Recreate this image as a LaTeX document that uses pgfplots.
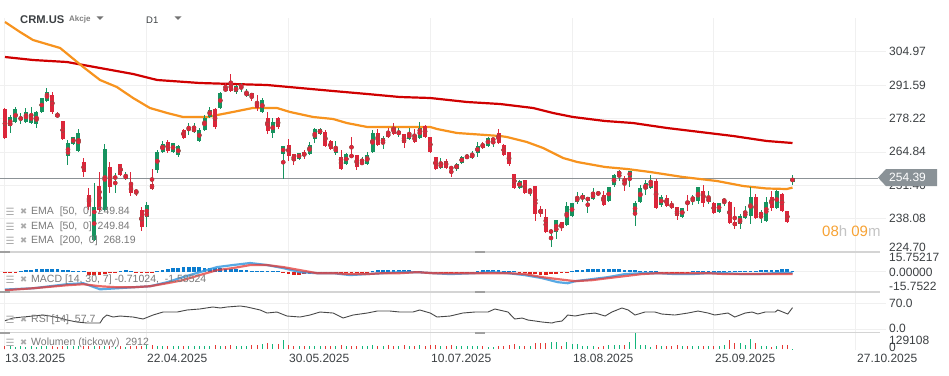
\documentclass[border=0pt]{standalone}
\usepackage{pgfplots}
\pgfplotsset{compat=1.18}
\usepackage{pgfplotstable}
\usepackage{fontspec}
\setmainfont{Liberation Sans}
\newfontfamily\sym{DejaVu Sans}
\definecolor{upc}{HTML}{16935F}
\definecolor{dnc}{HTML}{DC263A}
\definecolor{ema50}{HTML}{F7931E}
\definecolor{ema200}{HTML}{D00000}
\definecolor{gridc}{HTML}{F0F0F0}
\definecolor{sepc}{HTML}{D4D4D4}
\definecolor{handle}{HTML}{A0A0A0}
\definecolor{txt}{HTML}{3C4043}
\definecolor{leg}{HTML}{7A7A7A}
\definecolor{icon}{HTML}{ABABAB}
\definecolor{macdb}{HTML}{3B9BE0}
\definecolor{macdr}{HTML}{E53935}
\definecolor{histb}{HTML}{0A7CCF}
\definecolor{histr}{HTML}{E0201B}
\definecolor{volg}{HTML}{13B57B}
\definecolor{volr}{HTML}{E53935}
\definecolor{pricebox}{HTML}{8A9297}
\definecolor{pline}{HTML}{8C9296}
\definecolor{timeo}{HTML}{F7A233}
\definecolor{timeg}{HTML}{C4C4C4}

\pgfplotstableread{
i o h l c v
0 282.05 282.45 270.05 270.45 22
1 275.25 279.65 272.45 278.85 22
2 276.85 282.85 276.45 282.05 20
3 277.65 280.45 276.05 278.85 22
4 276.85 282.45 276.45 280.85 20
5 276.45 282.85 276.25 280.05 22
6 276.05 281.25 274.45 280.85 20
7 280.85 286.65 280.65 286.45 22
8 285.25 290.45 284.85 288.85 24
9 287.65 288.85 280.05 280.85 22
10 280.05 280.85 278.45 278.85 20
11 277.25 277.45 269.65 270.05 22
12 263.25 269.65 259.65 268.45 24
13 268.05 271.05 267.85 270.85 22
14 265.25 274.05 265.05 272.45 22
15 260.85 262.45 254.85 256.85 24
16 247.65 250.45 241.65 242.85 22
17 229.65 252.45 229.25 242.85 24
18 251.25 256.85 240.85 241.65 22
19 241.65 268.05 241.25 266.05 24
20 258.85 260.85 248.45 250.85 22
21 254.05 256.45 248.45 255.25 20
22 260.05 260.25 255.25 255.65 22
23 254.05 256.85 253.65 255.65 20
24 251.65 256.85 247.25 248.45 22
25 249.65 250.05 247.25 248.45 24
26 241.65 242.85 233.25 234.85 27
27 238.85 244.85 234.85 243.65 30
28 252.05 258.05 249.65 250.05 32
29 257.65 265.65 256.45 264.85 27
30 264.85 269.25 264.45 268.05 25
31 268.85 269.65 264.45 265.25 27
32 264.85 268.65 264.65 268.45 25
33 263.65 267.65 262.85 267.25 27
34 273.65 274.05 270.25 270.45 25
35 274.05 276.45 271.65 274.85 27
36 272.85 276.45 272.65 274.45 25
37 269.25 274.45 268.85 273.65 27
38 273.65 279.65 273.45 278.45 25
39 278.85 282.85 278.45 281.65 27
40 282.05 282.45 274.05 274.85 30
41 282.45 288.85 282.05 288.45 27
42 290.45 292.45 289.05 289.25 25
43 292.45 296.05 289.05 289.25 30
44 288.85 291.65 288.05 291.25 27
45 290.45 292.45 288.85 292.05 25
46 287.25 290.05 287.05 288.85 27
47 288.45 288.65 285.25 286.85 30
48 284.85 287.65 281.25 282.45 35
49 280.85 286.45 280.65 285.65 40
50 278.45 280.85 272.05 273.25 48
51 272.45 278.45 270.45 276.85 40
52 278.45 278.85 274.05 274.85 40
53 264.05 267.45 254.05 267.25 70
54 267.65 270.05 261.25 263.25 30
55 264.05 264.25 259.65 261.25 27
56 262.05 264.65 261.85 264.45 25
57 264.85 265.65 262.05 263.25 25
58 264.05 268.85 263.65 267.65 27
59 270.05 274.45 268.45 274.05 25
60 272.05 274.45 271.85 274.05 25
61 272.85 273.65 267.05 267.25 27
62 269.25 269.65 265.65 266.05 25
63 264.45 269.25 263.65 266.85 25
64 262.85 265.65 257.85 258.05 30
65 260.05 264.45 259.65 264.05 27
66 263.65 270.85 262.65 262.85 25
67 263.65 263.85 257.65 258.85 27
68 260.05 262.85 259.85 260.85 25
69 260.05 264.85 259.65 263.65 27
70 264.85 273.65 264.65 272.45 30
71 272.45 274.05 267.25 267.65 28
72 268.45 271.25 266.05 270.45 28
73 272.45 274.45 270.65 270.85 30
74 274.85 276.45 271.85 272.05 28
75 272.05 274.45 270.85 272.85 28
76 272.05 272.25 266.45 268.45 30
77 270.05 274.45 269.65 272.45 28
78 271.65 274.05 268.65 268.85 28
79 270.45 276.85 270.05 274.45 30
80 275.25 275.65 270.65 270.85 28
81 270.85 271.05 264.65 264.85 32
82 262.85 263.05 257.85 258.05 30
83 258.45 262.45 258.05 260.45 28
84 261.25 262.05 258.25 258.45 28
85 258.85 259.05 254.85 258.05 30
86 258.05 260.45 257.25 260.05 28
87 260.45 263.25 260.05 262.85 25
88 262.45 264.05 262.05 263.25 25
89 262.45 265.25 262.25 264.05 25
90 264.45 268.85 262.85 267.25 22
91 268.05 268.85 266.25 266.45 22
92 267.25 270.85 267.05 270.45 17
93 269.25 270.65 266.85 270.45 17
94 272.45 274.05 268.05 268.45 22
95 267.65 268.05 263.25 263.65 28
96 264.85 265.05 259.25 260.05 35
97 256.05 256.25 250.25 250.45 40
98 250.45 253.65 250.25 253.25 28
99 253.65 253.85 248.25 248.45 28
100 248.85 250.45 247.25 250.05 28
101 251.25 251.45 237.25 240.05 52
102 242.05 243.25 238.85 240.05 52
103 238.85 242.05 232.65 232.85 46
104 232.45 234.05 226.85 233.65 57
105 232.85 237.85 230.05 237.65 57
106 236.85 237.05 233.25 234.45 28
107 235.65 244.85 235.25 243.25 57
108 239.25 244.65 239.05 244.45 42
109 244.85 248.85 244.05 246.85 42
110 246.05 248.45 244.85 247.65 28
111 245.25 247.05 240.45 246.85 28
112 246.05 250.45 245.85 248.45 22
113 248.85 249.25 247.45 247.65 17
114 247.65 249.25 243.45 243.65 22
115 245.25 251.05 245.05 250.85 30
116 251.65 256.05 250.85 255.65 35
117 255.65 257.65 253.25 257.25 35
118 254.45 255.25 249.25 252.45 35
119 254.85 257.45 250.85 257.25 57
120 240.05 245.25 235.25 244.45 129
121 244.85 251.65 244.45 250.45 35
122 250.05 253.65 247.65 252.45 35
123 250.45 255.65 250.05 253.25 17
124 253.25 254.05 242.25 242.45 30
125 243.65 247.65 242.85 246.85 28
126 246.45 247.65 242.85 243.25 25
127 244.05 245.25 242.05 242.45 25
128 242.85 243.05 237.65 239.25 30
129 238.85 242.65 238.65 242.45 28
130 245.25 247.65 241.25 244.05 28
131 245.65 247.65 243.65 246.85 25
132 245.25 251.05 244.05 250.85 28
133 249.25 251.65 242.85 244.45 25
134 244.85 249.25 244.05 246.45 25
135 244.45 244.85 240.05 240.45 28
136 240.85 244.65 240.65 244.45 25
137 244.85 246.45 243.25 246.05 30
138 244.85 245.25 236.25 236.45 74
139 236.85 242.85 234.05 235.25 52
140 236.05 240.05 234.05 239.25 52
141 238.45 243.25 238.05 241.25 35
142 239.25 250.85 236.05 246.85 79
143 246.85 248.05 238.05 238.45 46
144 239.25 241.65 236.45 240.85 22
145 237.25 246.85 237.05 244.85 22
146 246.85 249.25 241.25 242.45 17
147 242.45 249.65 242.05 249.25 22
148 248.05 248.45 241.05 241.25 30
149 241.25 241.45 236.45 236.85 30
150 253.05 255.65 251.65 254.39 2.9
}\candles

\pgfplotstableread[row sep=\\]{
i hv\\ 0 -0.8\\ 1 -0.8\\ 2 -0.8\\ 3 0.8\\ 4 1.2\\ 5 1.6\\ 6 2\\ 7 2.4\\ 8 2.4\\ 9 2.4\\ 10 2\\ 11 1.6\\ 12 1.2\\
13 0.4\\ 14 0.4\\ 15 0.4\\ 16 -2.4\\ 17 -2.8\\ 18 -2.4\\ 19 -1.6\\ 20 -0.8\\ 21 -0.4\\ 22 0.8\\ 23 1.2\\ 24 0.8\\
25 -0.4\\ 26 -0.4\\ 27 -0.4\\ 28 -0.4\\ 29 0.8\\ 30 1.6\\ 31 2.4\\ 32 2.8\\ 33 3.2\\ 34 3.6\\ 35 3.6\\ 36 3.6\\
37 3.6\\ 38 3.2\\ 39 3.2\\ 40 2.8\\ 41 2.8\\ 42 2.4\\ 43 2.4\\ 44 2\\ 45 1.6\\ 46 1.2\\ 47 0.8\\ 48 0.4\\ 49 0.4\\
50 0.4\\ 51 0.4\\ 52 0.4\\ 53 -1.2\\ 54 -2\\ 55 -2.4\\ 56 -2.4\\ 57 -2\\ 58 -1.6\\ 59 -0.4\\ 60 -0.4\\ 61 -0.4\\
62 -0.4\\ 63 -0.4\\ 64 -0.4\\ 65 -0.4\\ 66 -0.4\\ 67 -0.4\\ 68 -0.4\\ 69 -0.4\\ 70 0.8\\ 71 1.2\\ 72 1.6\\ 73 1.6\\
74 1.6\\ 75 1.6\\ 76 1.2\\ 77 1.2\\ 78 0.8\\ 79 0.4\\ 80 -0.4\\ 81 -0.4\\ 82 -0.4\\ 83 -0.4\\ 84 -0.4\\ 85 -0.4\\
86 -0.4\\ 87 -0.4\\ 88 -0.4\\ 89 -0.4\\ 90 0.8\\ 91 1.2\\ 92 1.6\\ 93 1.6\\ 94 1.2\\ 95 0.8\\ 96 0.8\\ 97 0.4\\
98 -0.8\\ 99 -1.2\\ 100 -1.6\\ 101 -2\\ 102 -2.4\\ 103 -2.4\\ 104 -2\\ 105 -1.6\\ 106 -1.2\\ 107 -0.8\\ 108 0.8\\
109 1.2\\ 110 1.6\\ 111 2\\ 112 2\\ 113 2.4\\ 114 2.4\\ 115 2.4\\ 116 2\\ 117 2\\ 118 1.6\\ 119 1.6\\ 120 1.2\\
121 0.8\\ 122 0.8\\ 123 0.4\\ 124 0.4\\ 125 -0.8\\ 126 -1.2\\ 127 -0.8\\ 128 -0.4\\ 129 -0.4\\ 130 -0.4\\ 131 0.4\\
132 0.4\\ 133 0.4\\ 134 0.4\\ 135 0.4\\ 136 0.4\\ 137 0.4\\ 138 0.4\\ 139 0.4\\ 140 0.4\\ 141 0.4\\ 142 0.8\\
143 0.8\\ 144 1.2\\ 145 1.2\\ 146 1.6\\ 147 1.6\\ 148 2\\ 149 2\\ 150 0.875\\
}\hist

\pgfplotsset{panel/.style={scale only axis, width=886pt, xmin=-0.952, xmax=167.81,
  axis line style={draw=none}, tick style={draw=none}, xticklabels={}, yticklabels={},
  xtick={0,27,54,81,108,135,162}, xmajorgrids, ymajorgrids,
  major grid style={draw=gridc, line width=1pt}, anchor=north west, clip=true},
  candle/.style n args={2}{#1, only marks, mark=none, error bars/.cd, y dir=both, y explicit,
  error mark=none, error bar style={line width=#2, draw=#1, fill=none}}}

\begin{document}
\begin{tikzpicture}
\useasboundingbox (0pt,0pt) rectangle (949pt,-375pt);
\fill[white] (0pt,0pt) rectangle (949pt,-375pt);

% ---------------- price panel
\begin{axis}[panel, at={(0pt,-18pt)}, height=233.9pt, ymin=224.89, ymax=318.45,
  ytick={238.08,251.46,264.84,278.22,291.59,304.97}]
\addplot[pline, line width=1pt] coordinates {(-0.952,254.39) (166.3,254.39)};
% EMA 200
\addplot[ema200, line width=2.2pt] coordinates {
(0,302.85) (5.33,301.65) (11.8,300.85) (18.1,298.45) (24.4,296.05) (29.0,293.65)
(37.1,292.45) (43.4,292.05) (49.9,291.65) (56.2,290.45) (62.5,289.25) (69.0,288.05)
(75.2,286.85) (81.0,286.45) (88.0,284.85) (94.3,284.05) (100.6,282.45) (104.4,280.45)
(108.2,278.85) (114.3,277.25) (119.6,276.45) (126.1,274.45) (132.4,272.85)
(138.7,271.25) (145.1,269.25) (150,268.45)};
% EMA 50
\addplot[ema50, line width=2.2pt] coordinates {
(0,316.85) (2.86,312.85) (5.33,309.65) (10.5,306.45) (14.9,298.85) (18.1,293.65)
(21.3,290.85) (24.4,286.45) (27.6,282.45) (30.9,280.45) (33.9,278.85) (38.5,278.85)
(43.4,280.85) (47.2,282.45) (51.8,282.45) (54.3,280.85) (58.7,278.85) (62.5,278.05)
(65.1,276.45) (69.0,274.85) (81.0,274.85) (82.3,274.05) (86.1,272.45) (94.3,271.25)
(95.6,270.85) (99.4,268.85) (102.5,266.45) (106.3,262.45) (109.0,260.85)
(114.3,258.85) (118.5,258.05) (122.9,256.85) (129.1,254.85) (135.6,253.25)
(140.6,251.25) (145.1,250.25) (148.9,250.05) (150,250.6)};
% wicks
\addplot[candle={upc}{1pt}]
  table[x=i, y expr={(\thisrow{h}+\thisrow{l})/2},
  y error expr={(\thisrow{c}>=\thisrow{o})*(\thisrow{h}-\thisrow{l})/2}] {\candles};
\addplot[candle={dnc}{1pt}]
  table[x=i, y expr={(\thisrow{h}+\thisrow{l})/2},
  y error expr={(\thisrow{c}<\thisrow{o})*(\thisrow{h}-\thisrow{l})/2}] {\candles};
% bodies
\addplot[candle={upc}{4pt}]
  table[x=i, y expr={(\thisrow{o}+\thisrow{c})/2},
  y error expr={(\thisrow{c}>=\thisrow{o})*max(abs(\thisrow{c}-\thisrow{o})/2,0.3)}] {\candles};
\addplot[candle={dnc}{4pt}]
  table[x=i, y expr={(\thisrow{o}+\thisrow{c})/2},
  y error expr={(\thisrow{c}<\thisrow{o})*max(abs(\thisrow{c}-\thisrow{o})/2,0.3)}] {\candles};
\end{axis}

% ---------------- MACD panel
\begin{axis}[panel, at={(0pt,-251.9pt)}, height=40pt, ymin=-15.75217, ymax=15.75217, ytick={0}]
\addplot[ycomb, histb, line width=3.8pt, mark=none] table[x=i, y expr={max(\thisrow{hv},0)}] {\hist};
\addplot[ycomb, histr, line width=3.8pt, mark=none] table[x=i, y expr={min(\thisrow{hv},0)}] {\hist};
\addplot[macdb, line width=2.2pt, opacity=0.85] coordinates {
(0,-13.9) (5.33,-12.9) (11.8,-9.7) (14.9,-8.9) (18.1,-13.7) (21.3,-12.9) (24.4,-12.1)
(27.6,-11.3) (30.9,-8.1) (33.9,-4.1) (37.1,-0.2) (40.4,3.8) (43.4,5.4) (46.7,7.0)
(49.9,5.4) (53.0,3.0) (56.2,-0.2) (59.4,-1.0) (62.5,-1.0) (65.7,-2.5) (69.0,-1.7)
(72.0,-1.0) (75.2,-0.2) (78.5,-0.2) (81.5,-1.0) (84.8,-1.7) (89.5,-1.0) (92.8,-0.2)
(95.8,-1.0) (99.0,-2.5) (102.3,-4.9) (105.3,-8.1) (107.2,-8.9) (108.6,-7.3)
(111.8,-5.7) (114.9,-4.1) (118.1,-1.7) (121.3,-1.0) (124.4,-1.0) (127.6,-1.7)
(130.9,-1.7) (133.9,-1.0) (137.1,-1.0) (140.4,-1.7) (143.4,-1.7) (146.7,-1.0) (150,-0.71)};
\addplot[macdr, line width=2.2pt, opacity=0.75] coordinates {
(0,-14.4) (5.33,-12.9) (11.8,-10.5) (14.9,-9.7) (18.1,-11.3) (21.3,-12.1) (24.4,-12.1)
(27.6,-11.3) (30.9,-8.9) (33.9,-6.5) (37.1,-2.5) (40.4,1.4) (43.4,3.0) (46.7,5.4)
(49.9,5.4) (53.0,3.8) (56.2,1.4) (59.4,-1.0) (62.5,-1.0) (65.7,-1.7) (69.0,-1.7)
(72.0,-1.0) (75.2,-1.0) (78.5,-0.2) (81.5,-1.0) (84.8,-1.0) (89.5,-1.0) (92.8,-1.0)
(95.8,-1.0) (99.0,-1.7) (102.3,-4.1) (105.3,-5.7) (108.6,-7.3) (111.8,-6.5)
(114.9,-4.9) (118.1,-3.3) (121.3,-1.7) (124.4,-1.0) (127.6,-1.0) (130.9,-1.0)
(133.9,-1.0) (137.1,-1.7) (140.4,-1.7) (143.4,-1.7) (146.7,-1.7) (150,-1.585)};
\end{axis}

% ---------------- RSI panel
\begin{axis}[panel, at={(0pt,-292pt)}, height=40.7pt, ymin=-10, ymax=100, ytick={0,70}]
\addplot[black!72, line width=0.9pt] coordinates {
(0,22.4) (1.52,29.7) (3.43,32.4) (5.33,35.1) (7.24,37.8) (8.57,35.1) (10.5,29.7)
(11.8,24.3) (13.7,18.9) (15.6,16.2) (18.1,16.2) (18.7,29.7) (19.4,37.8) (20.6,32.4)
(21.9,35.1) (24.4,32.4) (26.3,27.0) (28.2,37.8) (30.1,45.9) (32.8,45.9) (34.7,51.4)
(37.1,54.1) (39.6,59.5) (41.0,56.8) (42.3,59.5) (44.8,62.2) (46.1,59.5) (48.6,51.4)
(49.9,43.2) (51.8,45.9) (53.7,35.1) (56.2,32.4) (58.1,37.8) (60.0,45.9) (62.5,43.2)
(64.4,29.7) (66.3,37.8) (69.0,43.2) (70.9,48.6) (73.3,48.6) (75.2,45.9) (77.7,45.9)
(79.0,51.4) (81.0,43.2) (82.3,32.4) (84.8,35.1) (87.2,43.2) (89.5,45.9) (92.0,45.9)
(93.3,54.1) (95.8,45.9) (97.1,27.0) (98.5,29.7) (99.6,24.3) (101.0,21.6) (102.3,18.9)
(104.2,16.2) (104.8,18.9) (106.1,21.6) (107.2,37.8) (108.6,35.1) (110.5,40.5)
(112.4,43.2) (114.3,35.1) (115.6,45.9) (117.5,56.8) (118.7,51.4) (120.0,37.8)
(121.9,45.9) (123.8,45.9) (125.1,40.5) (127.6,37.8) (130.1,43.2) (132.0,48.6)
(133.9,43.2) (135.2,37.8) (137.7,43.2) (139.0,32.4) (141.0,43.2) (142.3,45.9)
(143.4,40.5) (144.8,45.9) (146.7,45.9) (147.2,51.4) (149.1,40.5) (150,57.7)};
\end{axis}

% ---------------- Volume panel
\begin{axis}[panel, at={(0pt,-332.7pt)}, height=17.3pt, ymin=-8.07, ymax=131.5, ytick=\empty]
\addplot[ycomb, volg, line width=1pt, mark=none]
  table[x=i, y expr={(\thisrow{c}>=\thisrow{o})*\thisrow{v}}] {\candles};
\addplot[ycomb, volr, line width=1pt, mark=none]
  table[x=i, y expr={(\thisrow{c}<\thisrow{o})*\thisrow{v}}] {\candles};
\end{axis}

% separators with resize handles
\foreach \yy in {251.9,292,332.7} {
  \draw[sepc, line width=1.2pt] (0pt,-\yy pt) -- (880pt,-\yy pt);
  \draw[handle, line width=1.6pt] (0pt,-\yy pt) -- (10pt,-\yy pt);
  \draw[handle, line width=1.6pt] (475pt,-\yy pt) -- (485pt,-\yy pt);
}

% header
\node[anchor=west, inner sep=0pt, text=txt, font=\fontsize{11.2}{13}\selectfont\bfseries] at (20pt,-19.5pt) {CRM.US};
\node[anchor=west, inner sep=0pt, text=black!50, font=\fontsize{8}{9}\selectfont\bfseries] at (69pt,-19pt) {Akcje};
\fill[black!55] (96.5pt,-16.3pt) -- (103.5pt,-16.3pt) -- (100pt,-19.8pt) -- cycle;
\node[anchor=west, inner sep=0pt, text=txt, font=\fontsize{9.5}{11}\selectfont] at (146pt,-20.5pt) {D1};
\fill[black!55] (174.5pt,-16.3pt) -- (181.5pt,-16.3pt) -- (178pt,-19.8pt) -- cycle;

% price labels
\begin{scope}[every node/.style={anchor=west, inner sep=0pt, text=txt, font=\fontsize{12}{14}\selectfont}]
\node at (889pt,-51.7pt) {304.97};
\node at (889pt,-85pt) {291.59};
\node at (889pt,-118.3pt) {278.22};
\node at (889pt,-151.8pt) {264.84};
\node at (889pt,-185.3pt) {251.46};
\node at (889pt,-218.8pt) {238.08};
\begin{scope}\clip (880pt,-240pt) rectangle (949pt,-251pt); \node at (889pt,-247.5pt) {224.70};\end{scope}
\node at (889pt,-257pt) {15.75217};
\node at (889pt,-272pt) {0.00000};
\node at (889pt,-286.5pt) {-15.7522};
\node at (889pt,-303.3pt) {70.0};
\node at (889pt,-328.8pt) {0.0};
\node at (889pt,-340pt) {129108};
\node at (889pt,-347.5pt) {0};
\end{scope}
\fill[pricebox] (878pt,-177.6pt) -- (886pt,-169pt) -- (937pt,-169pt) -- (937pt,-186.2pt) -- (886pt,-186.2pt) -- cycle;
\node[anchor=west, inner sep=0pt, text=white, font=\fontsize{12}{14}\selectfont] at (889pt,-177.6pt) {254.39};

% date labels
\begin{scope}[every node/.style={anchor=west, inner sep=0pt, text=txt, font=\fontsize{12}{14}\selectfont}]
\node at (5pt,-358pt) {13.03.2025};
\node at (147pt,-358pt) {22.04.2025};
\node at (289pt,-358pt) {30.05.2025};
\node at (431pt,-358pt) {10.07.2025};
\node at (573pt,-358pt) {18.08.2025};
\node at (715pt,-358pt) {25.09.2025};
\node at (857pt,-358pt) {27.10.2025};
\end{scope}

% indicator legends
\newcommand\icons[1]{%
  \node[anchor=west, inner sep=0pt, text=icon, font=\sym\fontsize{10}{10}\selectfont] at (5.5pt,-#1pt) {☰};
  \node[anchor=west, inner sep=0pt, text=icon, font=\sym\fontsize{8.5}{10}\selectfont] at (20pt,-#1pt) {✖};}
\begin{scope}[every node/.style={anchor=west, inner sep=0pt, text=leg, font=\fontsize{10.5}{12}\selectfont}]
\icons{212}\node at (31pt,-212pt) {EMA \ [50, \ 0] \ 249.84};
\icons{226.5}\node at (31pt,-226.5pt) {EMA \ [50, \ 0] \ 249.84};
\icons{240.5}\node at (31pt,-240.5pt) {EMA \ [200, \ 0] \ 268.19};
\icons{280}\node at (31pt,-280pt) {MACD [14, 30, 7] -0.71024, \ -1.58524};
\icons{320}\node at (31pt,-320pt) {RSI [14] \ 57.7};
\icons{343}\node at (31pt,-343pt) {Wolumen (tickowy) \ 2912};
\end{scope}

% countdown
\node[anchor=west, inner sep=0pt, font=\fontsize{15}{17}\selectfont] at (822pt,-231.5pt)
  {\textcolor{timeo}{08}\textcolor{timeg}{h} \textcolor{timeo}{09}\textcolor{timeg}{m}};
\end{tikzpicture}
\end{document}
